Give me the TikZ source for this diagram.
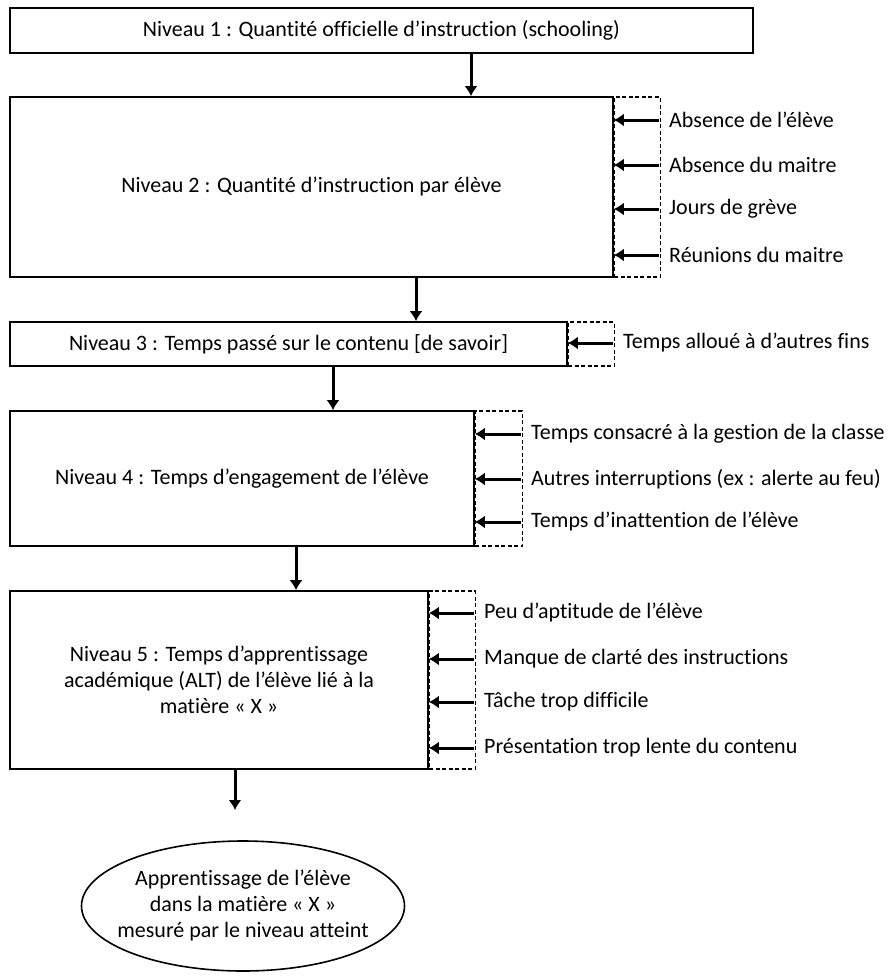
\documentclass[tikz,border=0pt]{standalone}
\usepackage{fontspec}
\setmainfont{Carlito}[Ligatures=NoCommon]
\usetikzlibrary{arrows.meta}

\begin{document}
\begin{tikzpicture}[x=1pt, y=-1pt, font=\fontsize{22}{26}\selectfont,
  niveau/.style = {draw, line width=1.6pt, inner sep=0pt, align=center},
  cadre/.style = {draw, line width=1.2pt, dash pattern=on 4pt off 2.5pt, inner sep=0pt, anchor=west},
  facteur/.style = {anchor=west, inner xsep=10pt, inner ysep=0pt},
  fleche/.style = {-{Latex[length=10pt,width=13pt]}, line width=3pt}]
\useasboundingbox (0,0) rectangle (893,978);
\node[niveau, minimum width=743pt, minimum height=45pt] (n1) at (381.5,30.5) {Niveau 1 : Quantité officielle d’instruction (schooling)};
\node[niveau, minimum width=603pt, minimum height=180pt] (n2) at (311.5,187) {Niveau 2 : Quantité d’instruction par élève};
\node[cadre, minimum width=46pt, minimum height=180pt] (d2) at (n2.east) {};
\node[niveau, minimum width=557pt, minimum height=44pt] (n3) at (288.5,344) {Niveau 3 : Temps passé sur le contenu [de savoir]};
\node[cadre, minimum width=46pt, minimum height=44pt] (d3) at (n3.east) {};
\node[niveau, minimum width=464pt, minimum height=135pt] (n4) at (242,478.5) {Niveau 4 : Temps d’engagement de l’élève};
\node[cadre, minimum width=47pt, minimum height=135pt] (d4) at (n4.east) {};
\node[niveau, minimum width=418pt, minimum height=178pt] (n5) at (219,680) {Niveau 5 : Temps d’apprentissage\\académique (ALT) de l’élève lié à la\\matière « X »};
\node[cadre, minimum width=46pt, minimum height=178pt] (d5) at (n5.east) {};
\node[align=center] (e) at (243,906) {Apprentissage de l’élève\\dans la matière « X »\\mesuré par le niveau atteint};
\draw[line width=1.6pt] (e.center) ellipse [x radius=161.5, y radius=65];

\node[facteur] (f21) at (659,120) {Absence de l’élève};
\node[facteur] (f22) at (659,165) {Absence du maitre};
\node[facteur] (f23) at (659,209) {Jours de grève};
\node[facteur] (f24) at (659,255) {Réunions du maitre};
\node[facteur] (f31) at (613,343) {Temps alloué à d’autres fins};
\node[facteur] (f41) at (521,434) {Temps consacré à la gestion de la classe};
\node[facteur] (f42) at (521,479) {Autres interruptions (ex : alerte au feu)};
\node[facteur] (f43) at (521,522) {Temps d’inattention de l’élève};
\node[facteur] (f51) at (474,613) {Peu d’aptitude de l’élève};
\node[facteur] (f52) at (474,659) {Manque de clarté des instructions};
\node[facteur] (f53) at (474,702) {Tâche trop difficile};
\node[facteur] (f54) at (474,748) {Présentation trop lente du contenu};
\coordinate (c5) at (235,810);

\draw[fleche] ([xshift=89.5pt]n1.south) -- ([xshift=89.5pt]n1.south |- n2.north);
\draw[fleche] ([xshift=104.5pt]n2.south) -- ([xshift=104.5pt]n2.south |- n3.north);
\draw[fleche] ([xshift=44.5pt]n3.south) -- ([xshift=44.5pt]n3.south |- n4.north);
\draw[fleche] ([xshift=54pt]n4.south) -- ([xshift=54pt]n4.south |- n5.north);
\draw[fleche] ([xshift=16pt]n5.south) -- (c5);
\draw[fleche] (f21.west) -- (f21.west -| n2.east);
\draw[fleche] (f22.west) -- (f22.west -| n2.east);
\draw[fleche] (f23.west) -- (f23.west -| n2.east);
\draw[fleche] (f24.west) -- (f24.west -| n2.east);
\draw[fleche] (f31.west) -- (f31.west -| n3.east);
\draw[fleche] (f41.west) -- (f41.west -| n4.east);
\draw[fleche] (f42.west) -- (f42.west -| n4.east);
\draw[fleche] (f43.west) -- (f43.west -| n4.east);
\draw[fleche] (f51.west) -- (f51.west -| n5.east);
\draw[fleche] (f52.west) -- (f52.west -| n5.east);
\draw[fleche] (f53.west) -- (f53.west -| n5.east);
\draw[fleche] (f54.west) -- (f54.west -| n5.east);
\end{tikzpicture}
\end{document}
